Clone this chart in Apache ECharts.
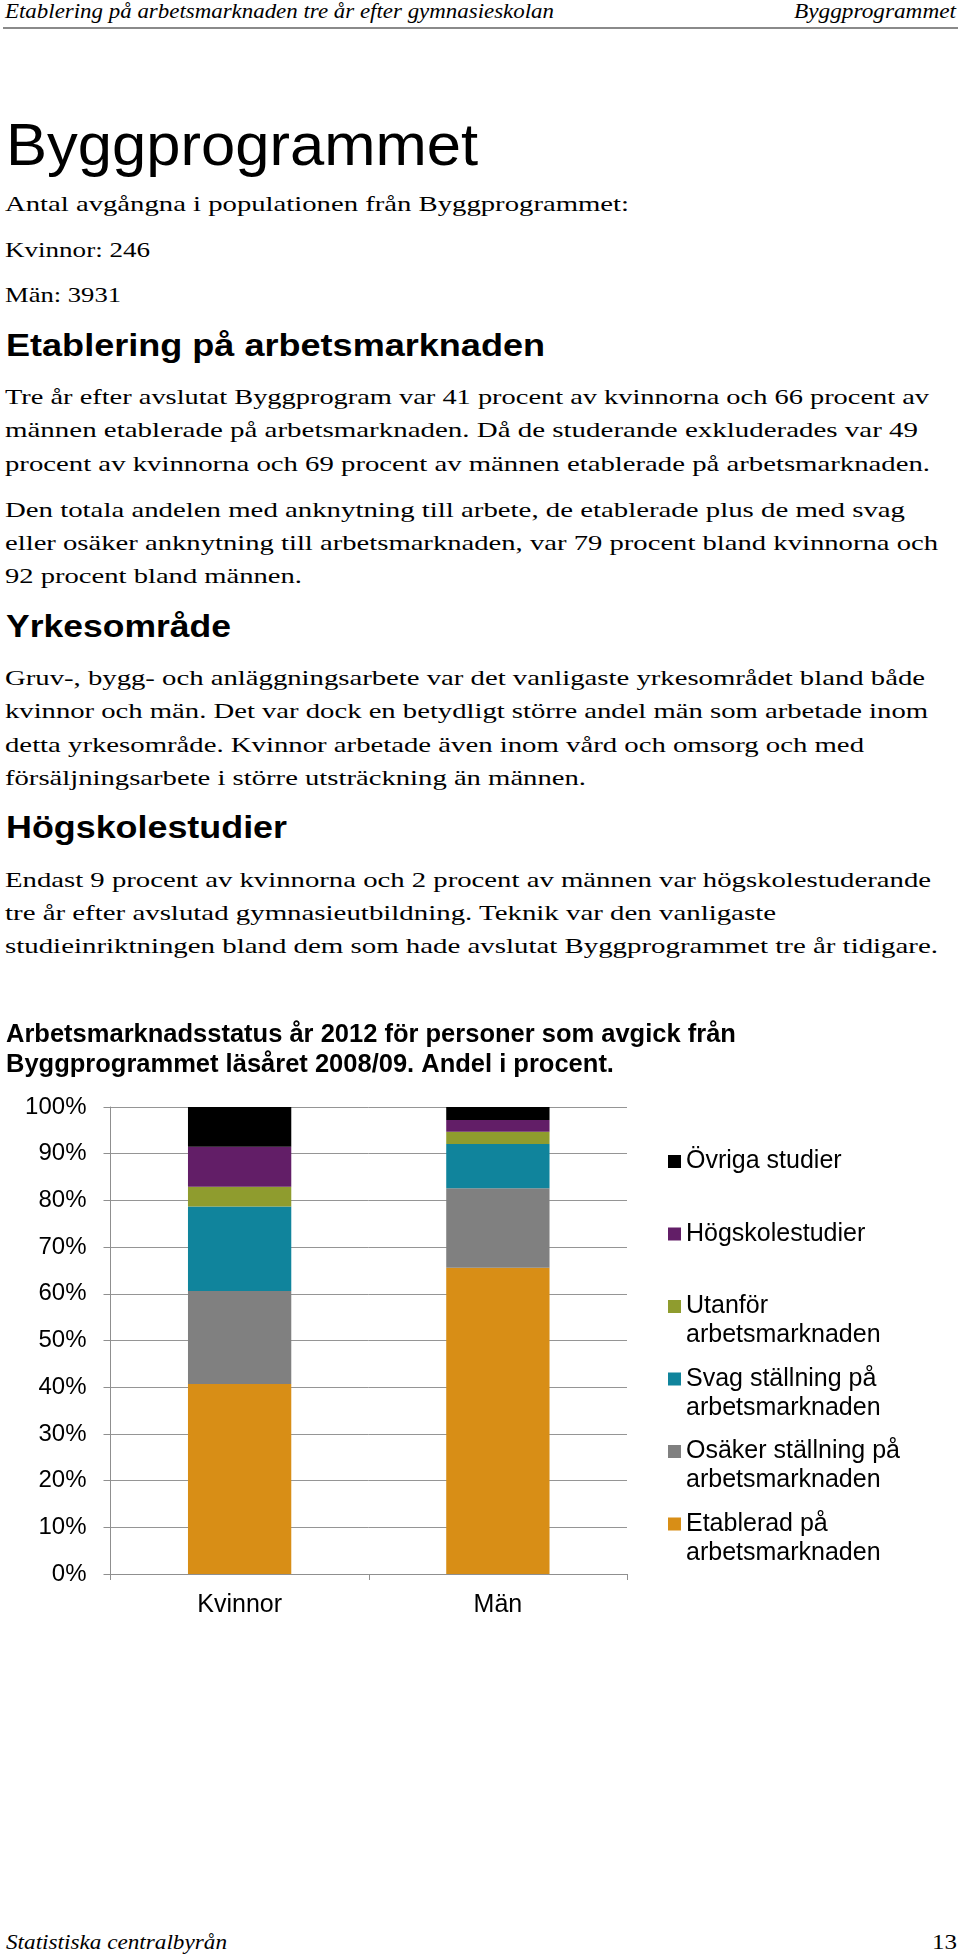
<!DOCTYPE html>
<html>
<head>
<meta charset="utf-8">
<script src="https://cdn.jsdelivr.net/npm/echarts@6/dist/echarts.min.js"></script>
<style>
  html, body { margin: 0; padding: 0; background: #fff; }
  #page { position: relative; width: 960px; height: 1960px; overflow: hidden; background: #fff; }
  #txt { position: absolute; left: 0; top: 0; }
  #chart { position: absolute; left: 0; top: 1000px; width: 960px; height: 640px; }
</style>
</head>
<body>
<div id="page">
  <svg id="txt" width="960" height="1960" xmlns="http://www.w3.org/2000/svg"></svg>
  <div id="chart"></div>
</div>
<script>
// ---- chart data ----
const categories = ['Kvinnor', 'Män'];
const seriesNames = [
  'Etablerad på arbetsmarknaden',
  'Osäker ställning på arbetsmarknaden',
  'Svag ställning på arbetsmarknaden',
  'Utanför arbetsmarknaden',
  'Högskolestudier',
  'Övriga studier'
];
const etablerad = [40.7, 65.6];
const osaker    = [19.9, 17.0];
const svag      = [18.1, 9.5];
const utanfor   = [4.2, 2.6];
const hogskole  = [8.6, 2.5];
const ovriga    = [8.5, 2.8];
const legendLabels = [
  'Etablerad på\narbetsmarknaden',
  'Osäker ställning på\narbetsmarknaden',
  'Svag ställning på\narbetsmarknaden',
  'Utanför\narbetsmarknaden',
  'Högskolestudier',
  'Övriga studier'
];
const yMin = 0, yMax = 100, yStep = 10;
const chartTitle = 'Arbetsmarknadsstatus år 2012 för personer som avgick från\nByggprogrammet läsåret 2008/09. Andel i procent.';

// ---- page text ----
const serif = "'Liberation Serif', 'Times New Roman', serif";
const sans = "'Liberation Sans', Arial, sans-serif";
const pageTexts = [
  {t: 'Etablering på arbetsmarknaden tre år efter gymnasieskolan', x: 5, y: 17.5, w: 549, f: serif, s: 21, i: true},
  {t: 'Byggprogrammet', x: 956, y: 17.5, w: 162, f: serif, s: 21, i: true, end: true},
  {t: 'Byggprogrammet', x: 6, y: 165, w: 472, f: sans, s: 60},
  {t: 'Antal avgångna i populationen från Byggprogrammet:', x: 5, y: 210.7, w: 624, f: serif, s: 21.5},
  {t: 'Kvinnor: 246', x: 5, y: 256.7, w: 145, f: serif, s: 21.5},
  {t: 'Män: 3931', x: 5, y: 301.7, w: 116, f: serif, s: 21.5},
  {t: 'Etablering på arbetsmarknaden', x: 6, y: 356, w: 539, f: sans, s: 32, b: true},
  {t: 'Tre år efter avslutat Byggprogram var 41 procent av kvinnorna och 66 procent av', x: 5, y: 404, w: 924, f: serif, s: 21.5},
  {t: 'männen etablerade på arbetsmarknaden. Då de studerande exkluderades var 49', x: 5, y: 437.3, w: 913, f: serif, s: 21.5},
  {t: 'procent av kvinnorna och 69 procent av männen etablerade på arbetsmarknaden.', x: 5, y: 470.6, w: 925, f: serif, s: 21.5},
  {t: 'Den totala andelen med anknytning till arbete, de etablerade plus de med svag', x: 5, y: 516.7, w: 900, f: serif, s: 21.5},
  {t: 'eller osäker anknytning till arbetsmarknaden, var 79 procent bland kvinnorna och', x: 5, y: 550, w: 933, f: serif, s: 21.5},
  {t: '92 procent bland männen.', x: 5, y: 583.3, w: 297, f: serif, s: 21.5},
  {t: 'Yrkesområde', x: 6, y: 636.7, w: 225, f: sans, s: 32, b: true},
  {t: 'Gruv-, bygg- och anläggningsarbete var det vanligaste yrkesområdet bland både', x: 5, y: 685, w: 920, f: serif, s: 21.5},
  {t: 'kvinnor och män. Det var dock en betydligt större andel män som arbetade inom', x: 5, y: 718.3, w: 923, f: serif, s: 21.5},
  {t: 'detta yrkesområde. Kvinnor arbetade även inom vård och omsorg och med', x: 5, y: 751.7, w: 859, f: serif, s: 21.5},
  {t: 'försäljningsarbete i större utsträckning än männen.', x: 5, y: 785, w: 581, f: serif, s: 21.5},
  {t: 'Högskolestudier', x: 6, y: 838.3, w: 281, f: sans, s: 32, b: true},
  {t: 'Endast 9 procent av kvinnorna och 2 procent av männen var högskolestuderande', x: 5, y: 886.7, w: 926, f: serif, s: 21.5},
  {t: 'tre år efter avslutad gymnasieutbildning. Teknik var den vanligaste', x: 5, y: 920, w: 771, f: serif, s: 21.5},
  {t: 'studieinriktningen bland dem som hade avslutat Byggprogrammet tre år tidigare.', x: 5, y: 953.3, w: 933, f: serif, s: 21.5},
  {t: 'Statistiska centralbyrån', x: 6, y: 1949, w: 221, f: serif, s: 21, i: true},
  {t: '13', x: 957, y: 1949, w: 25, f: serif, s: 21, end: true}
];

const svg = document.getElementById('txt');
const NS = 'http://www.w3.org/2000/svg';
const rule = document.createElementNS(NS, 'line');
rule.setAttribute('x1', 3); rule.setAttribute('x2', 958);
rule.setAttribute('y1', 28); rule.setAttribute('y2', 28);
rule.setAttribute('stroke', '#8a8a8a'); rule.setAttribute('stroke-width', 2);
svg.appendChild(rule);
pageTexts.forEach(p => {
  const el = document.createElementNS(NS, 'text');
  el.setAttribute('x', p.x);
  el.setAttribute('y', p.y);
  el.setAttribute('font-family', p.f);
  el.setAttribute('font-size', p.s);
  el.setAttribute('fill', '#000');
  if (p.b) el.setAttribute('font-weight', 'bold');
  if (p.i) el.setAttribute('font-style', 'italic');
  if (p.end) el.setAttribute('text-anchor', 'end');
  el.setAttribute('textLength', p.w);
  el.setAttribute('lengthAdjust', 'spacingAndGlyphs');
  el.textContent = p.t;
  svg.appendChild(el);
});

// ---- chart ----
const colors = ['#D88E16', '#808080', '#10849C', '#8F9C2E', '#621E67', '#000000'];
const values = [etablerad, osaker, svag, utanfor, hogskole, ovriga];
const iconCenters = [524, 451.5, 379, 306.5, 234, 161.5];
// square marker aligned with the first text line of a two-line entry
const topSquareIcon = 'path://M0,0L13,0L13,13L0,13Z M0,41.95L0.05,41.95L0.05,42L0,42Z';

const legends = seriesNames.map((name, k) => {
  const twoLine = legendLabels[k].indexOf('\n') >= 0;
  return {
    show: true,
    orient: 'vertical',
    left: 668,
    top: iconCenters[k] - 14.5,
    padding: 0,
    itemWidth: 13,
    itemHeight: twoLine ? 42 : 13,
    icon: twoLine ? topSquareIcon : 'rect',
    selectedMode: false,
    data: [name],
    formatter: () => legendLabels[k],
    textStyle: {
      fontFamily: sans,
      fontSize: 25,
      lineHeight: 29,
      color: '#000'
    }
  };
});

const chart = echarts.init(document.getElementById('chart'), null, {renderer: 'canvas'});
chart.setOption({
  animation: false,
  backgroundColor: 'transparent',
  title: {
    text: chartTitle,
    left: 6,
    top: 20,
    padding: 0,
    textStyle: {fontFamily: sans, fontSize: 25.5, fontWeight: 'bold', color: '#000', lineHeight: 30}
  },
  legend: legends,
  grid: {left: 110.5, right: 333, top: 107, height: 467, containLabel: false},
  xAxis: {
    type: 'category',
    data: categories,
    axisLine: {lineStyle: {color: '#8f8f8f', width: 1}},
    axisTick: {show: true, length: 6, lineStyle: {color: '#8f8f8f'}},
    axisLabel: {fontFamily: sans, fontSize: 25, color: '#000', margin: 19},
    splitLine: {show: false}
  },
  yAxis: {
    type: 'value',
    min: yMin, max: yMax, interval: yStep,
    axisLine: {show: true, lineStyle: {color: '#8f8f8f', width: 1}},
    axisTick: {show: true, length: 7, lineStyle: {color: '#8f8f8f'}},
    axisLabel: {fontFamily: sans, fontSize: 24, color: '#000', margin: 24, formatter: '{value}%'},
    splitLine: {show: true, lineStyle: {color: '#959595', width: 1}}
  },
  series: seriesNames.map((name, k) => ({
    name: name,
    type: 'bar',
    stack: 'total',
    barCategoryGap: '60%',
    itemStyle: {color: colors[k]},
    emphasis: {disabled: true},
    data: values[k]
  }))
});
</script>
</body>
</html>
